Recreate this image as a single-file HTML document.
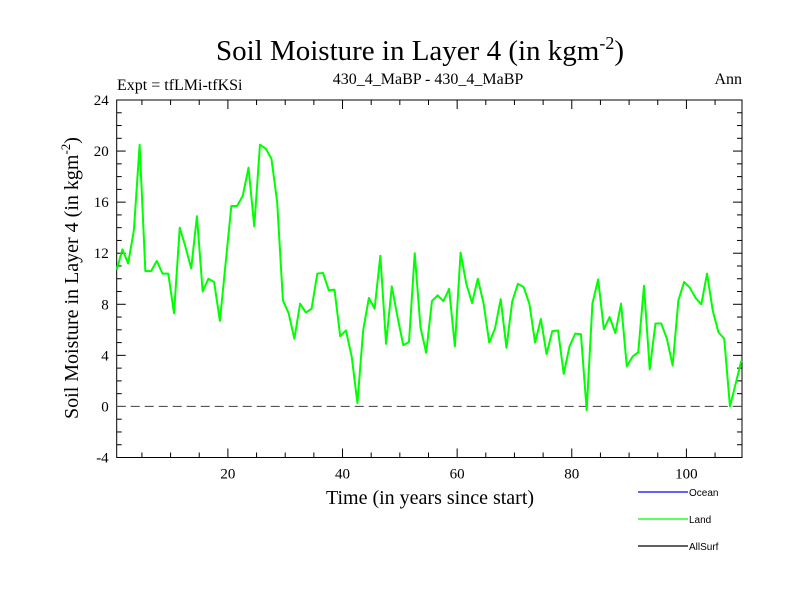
<!DOCTYPE html>
<html><head><meta charset="utf-8"><style>
html,body{margin:0;padding:0;background:#fff;}
svg{display:block;font-family:"Liberation Serif",serif;}
</style></head><body>
<svg id="chart" width="800" height="600" xmlns="http://www.w3.org/2000/svg">
<rect width="800" height="600" fill="#fff"/>
<text x="420" y="60" font-size="29" text-anchor="middle">Soil Moisture in Layer 4 (in kgm<tspan dy="-11" font-size="18">-2</tspan><tspan dy="11">)</tspan></text>
<text x="117" y="90" font-size="16">Expt = tfLMi-tfKSi</text>
<text x="428" y="84" font-size="16" text-anchor="middle">430_4_MaBP - 430_4_MaBP</text>
<text x="742" y="84" font-size="16" text-anchor="end">Ann</text>
<text transform="translate(78,278) rotate(-90)" font-size="20" text-anchor="middle">Soil Moisture in Layer 4 (in kgm<tspan dy="-8" font-size="13">-2</tspan><tspan dy="8">)</tspan></text>
<text x="430" y="504" font-size="20" text-anchor="middle">Time (in years since start)</text>
<g id="axes"></g>
<g id="series"></g>
<g font-family="'Liberation Sans',sans-serif" font-size="10">
<line x1="638" y1="492" x2="688" y2="492" stroke="#0000ff" stroke-width="1.2"/>
<text x="689" y="496">Ocean</text>
<line x1="638" y1="519" x2="688" y2="519" stroke="#00ff00" stroke-width="1.2"/>
<text x="689" y="523">Land</text>
<line x1="638" y1="546" x2="688" y2="546" stroke="#000" stroke-width="1.2"/>
<text x="689" y="550">AllSurf</text>
</g>
</svg>
<script>
const landValues = [10.7,12.3,11.2,13.8,20.5,10.6,10.6,11.4,10.4,10.4,7.3,14.0,12.5,10.8,14.9,9.0,10.0,9.75,6.7,11.2,15.7,15.7,16.5,18.7,14.1,20.5,20.2,19.4,16.0,8.3,7.3,5.3,8.05,7.35,7.65,10.4,10.45,9.1,9.15,5.5,5.95,3.9,0.27,5.95,8.5,7.65,11.8,4.9,9.4,7.0,4.8,5.05,12.0,6.2,4.2,8.25,8.7,8.25,9.2,4.7,12.05,9.6,8.1,10.0,8.1,5.0,6.1,8.4,4.6,8.2,9.6,9.35,8.05,5.0,6.85,4.1,5.9,5.95,2.55,4.7,5.7,5.65,-0.3,8.05,9.95,6.05,7.0,5.75,8.05,3.15,3.9,4.25,9.45,2.9,6.5,6.5,5.3,3.2,8.3,9.75,9.3,8.5,8.0,10.4,7.5,5.8,5.3,0.0,1.8,3.6];
const yTickLabels = ["-4","0","4","8","12","16","20","24"];
const xTickLabels = ["20","40","60","80","100"];
const firstYear = 0.6;
const xMin = 0.6, xMax = 109.7, yMin = -4, yMax = 24;
const L=116.7, R=742, T=100, B=457.5;
const xs = v => L + (v - xMin) / (xMax - xMin) * (R - L);
const ys = v => B - (v - yMin) / (yMax - yMin) * (B - T);
const NS="http://www.w3.org/2000/svg";
const ax=document.getElementById('axes');
function mk(tag, attrs, parent){const e=document.createElementNS(NS,tag);for(const k in attrs)e.setAttribute(k,attrs[k]);parent.appendChild(e);return e;}
const frame=mk('rect',{x:L,y:T,width:R-L,height:B-T,fill:'none',stroke:'#000','stroke-width':1},ax);


// y ticks
for(let v=yMin; v<=yMax; v++){
  const major=(v%4===0); const len=major?9:5; const y=ys(v);
  const t1=mk('line',{x1:L,y1:y,x2:L+len,y2:y,stroke:'#000','stroke-width':1},ax);
  
  
  const t2=mk('line',{x1:R,y1:y,x2:R-len,y2:y,stroke:'#000','stroke-width':1},ax);
  
  
}
yTickLabels.forEach(s=>{
  const v=parseFloat(s);
  const t=mk('text',{x:L-8,y:ys(v)+5,'font-size':15,'text-anchor':'end'},ax);
  t.textContent=s;
  
  
});
// x ticks
for(let v=5; v<=xMax; v+=5){
  const major=(v%20===0); const len=major?9:5; const x=xs(v);
  const t1=mk('line',{x1:x,y1:B,x2:x,y2:B-len,stroke:'#000','stroke-width':1},ax);
  
  
  const t2=mk('line',{x1:x,y1:T,x2:x,y2:T+len,stroke:'#000','stroke-width':1},ax);
  
  
}
xTickLabels.forEach(s=>{
  const v=parseFloat(s);
  const t=mk('text',{x:xs(v),y:B+21,'font-size':15,'text-anchor':'middle'},ax);
  t.textContent=s;
  
  
});
const zl=mk('line',{x1:L,y1:ys(0),x2:R,y2:ys(0),stroke:'#555','stroke-width':1.2,'stroke-dasharray':'9,5'},ax);


const sg=document.getElementById('series');
const pts=landValues.map((v,i)=>xs(firstYear+i).toFixed(2)+','+ys(v).toFixed(2)).join(' ');
const pl=mk('polyline',{points:pts,fill:'none',stroke:'#00ff00','stroke-width':2,'stroke-linejoin':'round'},sg);


</script>
</body></html>
